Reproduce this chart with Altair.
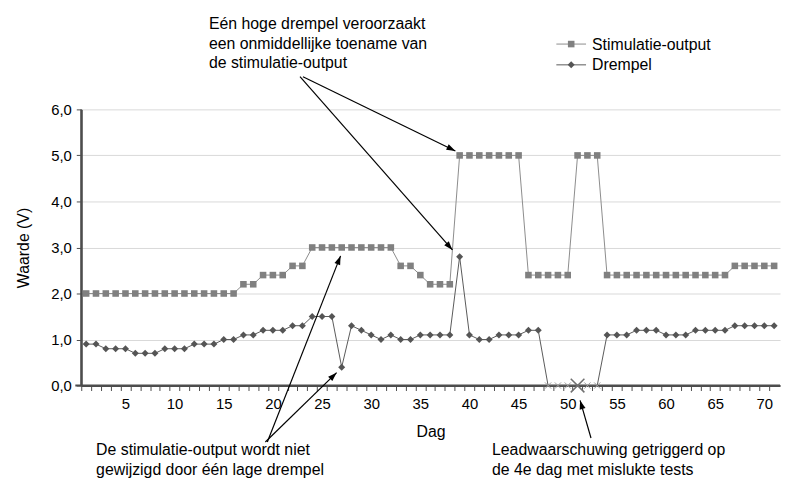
import math
import altair as alt
import pandas as pd

# ---------------- data ----------------
days = list(range(1, 72))
stimulatie_output = [
    2.0, 2.0, 2.0, 2.0, 2.0, 2.0, 2.0, 2.0, 2.0, 2.0,
    2.0, 2.0, 2.0, 2.0, 2.0, 2.0, 2.2, 2.2, 2.4, 2.4,
    2.4, 2.6, 2.6, 3.0, 3.0, 3.0, 3.0, 3.0, 3.0, 3.0,
    3.0, 3.0, 2.6, 2.6, 2.4, 2.2, 2.2, 2.2, 5.0, 5.0,
    5.0, 5.0, 5.0, 5.0, 5.0, 2.4, 2.4, 2.4, 2.4, 2.4,
    5.0, 5.0, 5.0, 2.4, 2.4, 2.4, 2.4, 2.4, 2.4, 2.4,
    2.4, 2.4, 2.4, 2.4, 2.4, 2.4, 2.6, 2.6, 2.6, 2.6,
    2.6,
]
drempel = [
    0.9, 0.9, 0.8, 0.8, 0.8, 0.7, 0.7, 0.7, 0.8, 0.8,
    0.8, 0.9, 0.9, 0.9, 1.0, 1.0, 1.1, 1.1, 1.2, 1.2,
    1.2, 1.3, 1.3, 1.5, 1.5, 1.5, 0.4, 1.3, 1.2, 1.1,
    1.0, 1.1, 1.0, 1.0, 1.1, 1.1, 1.1, 1.1, 2.8, 1.1,
    1.0, 1.0, 1.1, 1.1, 1.1, 1.2, 1.2, 0.0, 0.0, 0.0,
    0.0, 0.0, 0.0, 1.1, 1.1, 1.1, 1.2, 1.2, 1.2, 1.1,
    1.1, 1.1, 1.2, 1.2, 1.2, 1.2, 1.3, 1.3, 1.3, 1.3,
    1.3,
]
failed_test_days = [48, 49, 50, 51, 52, 53]
lead_warning_day = 51
x_label_days = [5, 10, 15, 20, 25, 30, 35, 40, 45, 50, 55, 60, 65, 70]
y_ticks = [0, 1, 2, 3, 4, 5, 6]
series_names = ["Stimulatie-output", "Drempel"]

top_note = ["Eén hoge drempel veroorzaakt", "een onmiddellijke toename van",
            "de stimulatie-output"]
left_note = ["De stimulatie-output wordt niet", "gewijzigd door één lage drempel"]
right_note = ["Leadwaarschuwing getriggerd op", "de 4e dag met mislukte tests"]

# ---------------- layout ----------------
FONT = "Liberation Sans"
INK = "#4d4d4d"
X_MIN, X_MAX = 0.5, 71.6
Y_MIN, Y_MAX = 0, 6
W, H = 706, 279
PAD_L, PAD_T = 74, 100
DAY_PX = W / (X_MAX - X_MIN)
VAL_PX = H / (Y_MAX - Y_MIN)
ORIGIN_X, ORIGIN_Y = 8 + PAD_L, 8 + PAD_T   # page position of plot's top-left
TICK_PX = 5


def to_day(px):
    return X_MIN + (px - ORIGIN_X) / DAY_PX


def to_val(py):
    return Y_MAX - (py - ORIGIN_Y) / VAL_PX


xs = alt.Scale(domain=[X_MIN, X_MAX], nice=False, zero=False)
ys = alt.Scale(domain=[Y_MIN, Y_MAX], nice=False, zero=False)

label_days_js = ",".join(str(d) for d in x_label_days)
x_axis = alt.Axis(
    values=days, tickOffset=-DAY_PX / 2, labelOffset=DAY_PX / 2,
    labelExpr="indexof([" + label_days_js + "], datum.value) >= 0 ? datum.label : ''",
    grid=False, domain=True, domainColor=INK, domainWidth=2,
    ticks=True, tickColor=INK, tickSize=TICK_PX, tickWidth=1,
    labelOverlap=False, labelFlush=False, labelBound=False,
    labelColor="black", labelFont=FONT, labelFontSize=15, labelPadding=6,
    title="Dag", titleFont=FONT, titleFontSize=16, titleFontWeight="normal",
    titleColor="black", titlePadding=12,
)
y_axis = alt.Axis(
    values=y_ticks, labelExpr="replace(format(datum.value, '.1f'), '.', ',')",
    grid=True, gridColor="#d9d9d9", gridWidth=1,
    domain=True, domainColor=INK, domainWidth=2,
    ticks=True, tickColor=INK, tickSize=TICK_PX, tickWidth=1,
    labelOverlap=False, labelColor="black", labelFont=FONT, labelFontSize=15,
    labelPadding=5, title="Waarde (V)", titleFont=FONT, titleFontSize=16,
    titleFontWeight="normal", titleColor="black", titlePadding=19,
)


def X(field):
    return alt.X(field, scale=xs, axis=x_axis)


def Y(field):
    return alt.Y(field, scale=ys, axis=y_axis)


df = pd.DataFrame({"day": days, "stim": stimulatie_output, "thr": drempel})
df["failed"] = df["day"].isin(failed_test_days)
df["warn"] = df["day"] == lead_warning_day

# axis frame also drawn as marks (same place as the axis domain lines)
frame = pd.DataFrame({
    "fx": [X_MIN - 6 / DAY_PX, X_MIN], "fx2": [X_MAX, X_MIN],
    "fy": [0.0, 0.0], "fy2": [0.0, float(Y_MAX)],
})
frame_rules = alt.Chart(frame).mark_rule(color=INK, strokeWidth=2,
                                         clip=False).encode(
    x=X("fx:Q"), x2="fx2:Q", y=Y("fy:Q"), y2="fy2:Q")

base = alt.Chart(df)
stim_line = base.mark_line(color="#8c8c8c", strokeWidth=1).encode(
    x=X("day:Q"), y=Y("stim:Q"))
stim_pts = base.mark_point(shape="square", filled=True, size=44, color="#808080",
                           opacity=1).encode(x=X("day:Q"), y=Y("stim:Q"))
thr_line = base.mark_line(color="#595959", strokeWidth=1).encode(
    x=X("day:Q"), y=Y("thr:Q"))
thr_pts = base.transform_filter("!datum.failed").mark_point(
    shape="diamond", filled=True, size=50, color="#555555", opacity=1).encode(
    x=X("day:Q"), y=Y("thr:Q"))
XSHAPE = "M-1,-1L1,1M1,-1L-1,1"
fail_pts = base.transform_filter("datum.failed && !datum.warn").mark_point(
    shape=XSHAPE, filled=False, size=40, color="#a0a0a0", strokeWidth=1,
    opacity=1).encode(x=X("day:Q"), y=Y("thr:Q"))
warn_pt = base.transform_filter("datum.warn").mark_point(
    shape=XSHAPE, filled=False, size=190, color="#707070", strokeWidth=1.5,
    opacity=1).encode(x=X("day:Q"), y=Y("thr:Q"))

# ---------------- annotations (page pixel positions measured on reference) ----
arrow_px = [
    (306, 75, 460, 150),
    (303, 75, 457, 250),
    (270, 444, 344, 256),
    (268, 444, 340, 374),
    (597, 440, 586, 402),
]
arr = pd.DataFrame([
    {"x": to_day(a), "y": to_val(b), "x2": to_day(c), "y2": to_val(d),
     "ang": math.degrees(math.atan2(c - a, -(d - b))) % 360}
    for a, b, c, d in arrow_px
])
arrow_lines = alt.Chart(arr).mark_rule(color="black", strokeWidth=1.2, clip=False).encode(
    x=X("x:Q"), y=Y("y:Q"), x2="x2:Q", y2="y2:Q")
arrow_heads = alt.Chart(arr).mark_point(
    shape="M0,0L-0.34,1L0.34,1Z", filled=True, size=324, color="black",
    opacity=1, clip=False).encode(
    x=X("x2:Q"), y=Y("y2:Q"), angle=alt.Angle("ang:Q", scale=None))

notes = []
for i, t in enumerate(top_note):
    notes.append({"t": t, "x": to_day(211), "y": to_val(26.5 + 20 * i)})
for i, t in enumerate(left_note):
    notes.append({"t": t, "x": to_day(97), "y": to_val(457.5 + 19.5 * i)})
for i, t in enumerate(right_note):
    notes.append({"t": t, "x": to_day(497), "y": to_val(457.5 + 19.5 * i)})
for i, t in enumerate(series_names):
    notes.append({"t": t, "x": to_day(598), "y": to_val(47.5 + 21 * i)})
notes_df = pd.DataFrame(notes)
note_text = alt.Chart(notes_df).mark_text(
    align="left", baseline="alphabetic", font=FONT, fontSize=16, color="black",
    clip=False).encode(x=X("x:Q"), y=Y("y:Q"), text="t:N")

# legend symbols
leg = pd.DataFrame({
    "name": series_names,
    "x": [to_day(562)] * 2, "x2": [to_day(592)] * 2, "xm": [to_day(577)] * 2,
    "y": [to_val(42), to_val(63)],
})
leg_lines = alt.Chart(leg).mark_rule(strokeWidth=1, clip=False).encode(
    x=X("x:Q"), x2="x2:Q", y=Y("y:Q"),
    color=alt.Color("name:N", scale=alt.Scale(domain=series_names,
                                              range=["#8c8c8c", "#595959"]),
                    legend=None))
leg_sq = alt.Chart(leg).transform_filter(
    alt.datum.name == series_names[0]).mark_point(
    shape="square", filled=True, size=44, color="#808080", opacity=1,
    clip=False).encode(x=X("xm:Q"), y=Y("y:Q"))
leg_dm = alt.Chart(leg).transform_filter(
    alt.datum.name == series_names[1]).mark_point(
    shape="diamond", filled=True, size=50, color="#555555", opacity=1,
    clip=False).encode(x=X("xm:Q"), y=Y("y:Q"))

chart = alt.layer(
    frame_rules,
    stim_line, stim_pts, thr_line, thr_pts, fail_pts, warn_pt,
    arrow_lines, arrow_heads, note_text, leg_lines, leg_sq, leg_dm,
).properties(
    width=W, height=H,
    autosize=alt.AutoSizeParams(type="none"),
    padding={"left": PAD_L, "top": PAD_T, "right": 4, "bottom": 94},
    background="white",
).configure_view(stroke=None)

chart.save("out.html", embed_options={"renderer": "svg", "actions": False})
